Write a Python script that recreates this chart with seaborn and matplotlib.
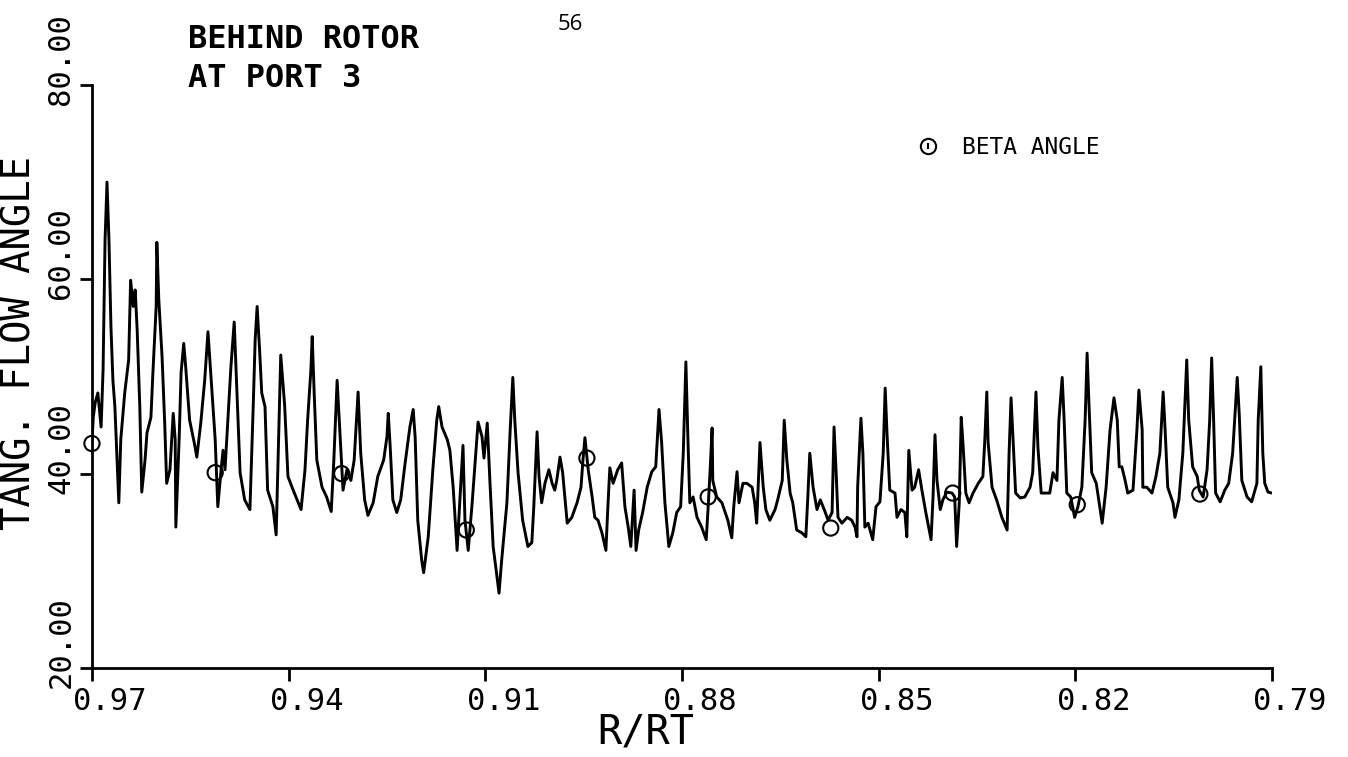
#!/usr/bin/env python3
"""
Tangential flow angle survey behind the rotor at port 3.
Redraws the plotter trace with seaborn.
"""

import numpy as np
import matplotlib
matplotlib.use("Agg")
import matplotlib.pyplot as plt
import matplotlib.transforms as mtransforms
from matplotlib.lines import Line2D
import seaborn as sns

# trace: radius ratio R/RT and tangential flow angle (deg)
r_rt = [
    0.9700, 0.9698, 0.9695, 0.9691, 0.9686, 0.9683, 0.9680, 0.9677, 0.9674, 0.9671,
    0.9668, 0.9665, 0.9659, 0.9656, 0.9650, 0.9644, 0.9641, 0.9637, 0.9634, 0.9631,
    0.9627, 0.9624, 0.9619, 0.9616, 0.9610, 0.9607, 0.9602, 0.9601, 0.9598, 0.9593,
    0.9589, 0.9586, 0.9581, 0.9576, 0.9573, 0.9572, 0.9567, 0.9564, 0.9560, 0.9557,
    0.9551, 0.9544, 0.9540, 0.9534, 0.9528, 0.9523, 0.9518, 0.9512, 0.9508, 0.9503,
    0.9500, 0.9497, 0.9493, 0.9488, 0.9483, 0.9480, 0.9474, 0.9467, 0.9459, 0.9454,
    0.9451, 0.9448, 0.9444, 0.9441, 0.9436, 0.9432, 0.9424, 0.9419, 0.9415, 0.9412,
    0.9406, 0.9401, 0.9393, 0.9381, 0.9375, 0.9371, 0.9366, 0.9364, 0.9361, 0.9357,
    0.9349, 0.9342, 0.9335, 0.9331, 0.9326, 0.9322, 0.9317, 0.9311, 0.9305, 0.9300,
    0.9294, 0.9290, 0.9284, 0.9279, 0.9271, 0.9264, 0.9255, 0.9250, 0.9248, 0.9245,
    0.9241, 0.9235, 0.9229, 0.9223, 0.9215, 0.9210, 0.9207, 0.9203, 0.9197, 0.9194,
    0.9187, 0.9180, 0.9174, 0.9171, 0.9166, 0.9158, 0.9154, 0.9149, 0.9143, 0.9139,
    0.9134, 0.9131, 0.9126, 0.9120, 0.9111, 0.9105, 0.9102, 0.9097, 0.9093, 0.9088,
    0.9084, 0.9079, 0.9075, 0.9067, 0.9062, 0.9058, 0.9055, 0.9050, 0.9043, 0.9035,
    0.9029, 0.9026, 0.9021, 0.9018, 0.9014, 0.9009, 0.9003, 0.8998, 0.8994, 0.8991,
    0.8986, 0.8982, 0.8975, 0.8968, 0.8960, 0.8954, 0.8951, 0.8948, 0.8943, 0.8937,
    0.8933, 0.8928, 0.8922, 0.8916, 0.8913, 0.8910, 0.8905, 0.8898, 0.8892, 0.8887,
    0.8882, 0.8878, 0.8873, 0.8870, 0.8866, 0.8860, 0.8853, 0.8846, 0.8840, 0.8835,
    0.8831, 0.8826, 0.8820, 0.8814, 0.8808, 0.8802, 0.8798, 0.8794, 0.8791, 0.8788,
    0.8783, 0.8777, 0.8770, 0.8763, 0.8760, 0.8757, 0.8754, 0.8753, 0.8747, 0.8739,
    0.8734, 0.8730, 0.8724, 0.8721, 0.8716, 0.8713, 0.8707, 0.8701, 0.8693, 0.8689,
    0.8686, 0.8681, 0.8676, 0.8672, 0.8666, 0.8658, 0.8654, 0.8647, 0.8644, 0.8640,
    0.8635, 0.8631, 0.8625, 0.8617, 0.8611, 0.8608, 0.8605, 0.8600, 0.8594, 0.8589,
    0.8583, 0.8577, 0.8571, 0.8568, 0.8565, 0.8562, 0.8556, 0.8548, 0.8541, 0.8536,
    0.8533, 0.8532, 0.8527, 0.8524, 0.8521, 0.8516, 0.8509, 0.8504, 0.8498, 0.8493,
    0.8490, 0.8487, 0.8483, 0.8475, 0.8472, 0.8466, 0.8460, 0.8457, 0.8454, 0.8449,
    0.8445, 0.8439, 0.8434, 0.8428, 0.8420, 0.8417, 0.8414, 0.8411, 0.8406, 0.8402,
    0.8396, 0.8388, 0.8384, 0.8381, 0.8377, 0.8374, 0.8371, 0.8367, 0.8362, 0.8356,
    0.8348, 0.8341, 0.8338, 0.8335, 0.8333, 0.8327, 0.8320, 0.8312, 0.8304, 0.8301,
    0.8298, 0.8295, 0.8291, 0.8284, 0.8277, 0.8269, 0.8265, 0.8260, 0.8257, 0.8252,
    0.8246, 0.8239, 0.8234, 0.8228, 0.8225, 0.8220, 0.8217, 0.8213, 0.8207, 0.8201,
    0.8196, 0.8190, 0.8185, 0.8182, 0.8179, 0.8175, 0.8168, 0.8162, 0.8159, 0.8153,
    0.8147, 0.8141, 0.8136, 0.8133, 0.8129, 0.8124, 0.8120, 0.8112, 0.8106, 0.8103,
    0.8098, 0.8097, 0.8091, 0.8083, 0.8077, 0.8071, 0.8066, 0.8063, 0.8059, 0.8051,
    0.8048, 0.8042, 0.8036, 0.8030, 0.8027, 0.8021, 0.8014, 0.8011, 0.8005, 0.7999,
    0.7995, 0.7992, 0.7989, 0.7986, 0.7979, 0.7972, 0.7966, 0.7960, 0.7953, 0.7950,
    0.7946, 0.7938, 0.7931, 0.7923, 0.7921, 0.7917, 0.7914, 0.7911, 0.7906, 0.7900,
]
flow_angle = [
    43.1, 45.8, 47.3, 48.3, 44.8, 50.7, 64.0, 70.0, 64.0, 55.1,
    49.6, 46.9, 37.0, 43.5, 48.3, 51.7, 59.9, 57.2, 58.9, 54.8,
    46.9, 38.1, 41.4, 44.2, 45.8, 50.4, 57.2, 63.8, 57.9, 52.0,
    45.2, 39.0, 40.4, 46.2, 43.5, 34.5, 43.5, 50.4, 53.4, 51.0,
    45.5, 43.2, 41.7, 45.2, 49.6, 54.6, 49.6, 43.5, 36.6, 40.4,
    42.4, 40.4, 45.2, 51.0, 55.6, 50.4, 40.1, 37.3, 36.3, 46.9,
    53.8, 57.2, 52.4, 48.3, 46.9, 38.3, 36.6, 33.7, 44.5, 52.2,
    47.0, 39.7, 38.3, 36.3, 40.4, 45.5, 50.7, 54.1, 48.3, 41.4,
    38.6, 37.6, 36.1, 41.4, 49.6, 44.5, 38.3, 40.4, 39.3, 41.4,
    48.4, 42.1, 37.3, 35.7, 37.0, 39.7, 41.4, 43.8, 46.2, 42.7,
    37.3, 36.0, 37.3, 40.7, 44.8, 46.6, 43.8, 35.2, 31.1, 29.8,
    33.5, 40.4, 45.5, 46.9, 44.8, 43.5, 42.4, 38.6, 32.1, 37.0,
    42.9, 35.2, 32.1, 37.0, 45.3, 43.8, 41.6, 45.2, 39.3, 32.5,
    30.4, 27.7, 31.1, 37.0, 44.5, 49.9, 45.5, 40.1, 35.2, 32.5,
    32.9, 36.6, 44.3, 39.7, 37.0, 39.0, 40.4, 39.0, 38.3, 39.3,
    41.7, 40.1, 34.9, 35.5, 37.0, 38.6, 41.4, 43.7, 40.4, 37.6,
    35.5, 35.2, 33.9, 32.1, 36.6, 40.6, 39.0, 40.4, 41.1, 36.6,
    34.5, 32.5, 38.3, 32.1, 34.2, 36.0, 38.6, 40.2, 40.7, 46.6,
    43.2, 37.0, 32.5, 33.9, 36.0, 36.6, 42.1, 51.5, 43.8, 37.0,
    37.6, 35.5, 34.5, 33.2, 36.6, 40.4, 44.7, 39.3, 37.6, 37.0,
    36.0, 35.2, 33.4, 36.6, 40.2, 37.0, 39.0, 39.0, 38.6, 37.0,
    34.9, 43.2, 38.6, 36.3, 35.2, 36.3, 37.3, 39.3, 45.5, 41.4,
    38.0, 37.0, 34.2, 33.9, 33.5, 37.6, 42.1, 38.6, 36.3, 37.3,
    36.3, 35.2, 36.0, 44.8, 40.4, 35.5, 34.9, 35.5, 35.2, 34.5,
    33.5, 38.6, 45.7, 42.1, 34.5, 34.9, 33.2, 36.6, 37.1, 42.1,
    48.8, 43.8, 38.3, 38.0, 35.5, 36.3, 36.0, 33.5, 42.4, 38.3,
    38.6, 40.4, 38.3, 36.0, 33.2, 37.6, 44.0, 39.3, 36.3, 37.3,
    38.1, 38.0, 37.6, 32.5, 37.0, 45.8, 42.7, 38.0, 37.0, 38.0,
    39.0, 39.7, 43.5, 48.4, 43.2, 38.6, 37.3, 35.5, 34.2, 42.1,
    47.8, 43.5, 38.0, 37.5, 37.6, 38.6, 40.1, 48.4, 42.7, 38.0,
    38.0, 38.0, 40.1, 39.3, 45.5, 49.9, 45.5, 38.0, 37.6, 35.5,
    36.6, 38.6, 45.5, 52.4, 46.9, 40.1, 39.0, 36.3, 34.9, 38.6,
    44.5, 47.8, 45.5, 40.7, 40.7, 39.3, 38.0, 38.3, 44.5, 48.6,
    44.5, 38.6, 38.6, 38.0, 39.7, 42.1, 48.4, 44.5, 38.6, 37.0,
    35.5, 37.3, 42.1, 51.7, 45.5, 40.7, 39.7, 38.3, 37.6, 40.4,
    45.5, 51.9, 45.5, 38.0, 37.1, 38.3, 39.0, 42.1, 49.9, 46.2,
    39.3, 37.6, 37.1, 39.0, 45.5, 51.0, 42.1, 39.0, 38.1, 38.0,
]

# circled beta-angle points
beta_r = [0.9700, 0.9512, 0.9319, 0.9129, 0.8945, 0.8760, 0.8573, 0.8387, 0.8197, 0.8010]
beta_angle = [43.1, 40.1, 40.0, 34.2, 41.6, 37.6, 34.4, 38.0, 36.8, 37.9]

x_ticks = [0.97, 0.94, 0.91, 0.88, 0.85, 0.82, 0.79]
y_ticks = [20, 40, 60, 80]

sns.set_theme(style="ticks")
plt.rcParams["font.family"] = ["DejaVu Sans Mono", "DejaVu Sans"]
plt.rcParams["text.color"] = "black"
plt.rcParams["axes.labelcolor"] = "black"

fig = plt.figure(figsize=(13.48, 7.57), dpi=100)
ax = fig.add_axes([0.0682, 0.1176, 0.8754, 0.7702])

sns.lineplot(x=r_rt, y=flow_angle, sort=False, estimator=None,
             color="black", linewidth=2.1, ax=ax)
sns.scatterplot(x=beta_r, y=beta_angle, marker="o", s=120,
                facecolor="none", edgecolor="black", linewidth=1.5,
                clip_on=False, zorder=5, ax=ax)

ax.set_xlim(0.97, 0.79)
ax.set_ylim(20, 80)
ax.set_xticks(x_ticks)
ax.set_xticklabels([f"{v:.2f}" for v in x_ticks], fontsize=22)
ax.set_yticks(y_ticks)
ax.set_yticklabels([f"{v:.2f}" for v in y_ticks], fontsize=22,
                   rotation=90, va="center")
ax.tick_params(axis="both", direction="out", length=9, width=2,
               color="black", labelcolor="black")
ax.tick_params(axis="x", pad=5)
ax.tick_params(axis="y", pad=3)

# plotter labels sit a little off their ticks
shift_x = mtransforms.ScaledTranslation(0.18, 0, fig.dpi_scale_trans)
for lab in ax.get_xticklabels():
    lab.set_transform(lab.get_transform() + shift_x)
shift_y = mtransforms.ScaledTranslation(0, 0.26, fig.dpi_scale_trans)
for lab in ax.get_yticklabels():
    lab.set_transform(lab.get_transform() + shift_y)

sns.despine(ax=ax)
for side in ["left", "bottom"]:
    ax.spines[side].set_linewidth(2)
    ax.spines[side].set_color("black")

ax.set_xlabel("R/RT", fontsize=29)
ax.xaxis.set_label_coords(0.469, -0.077)
ax.set_ylabel("TANG. FLOW ANGLE", fontsize=28)
ax.yaxis.set_label_coords(-0.045, 0.557)

fig.text(0.1395, 0.9366, "BEHIND ROTOR", fontsize=23, va="baseline",
         fontweight="bold")
fig.text(0.1395, 0.885, "AT PORT 3", fontsize=23, va="baseline",
         fontweight="bold")
fig.text(0.423, 0.967, "56", fontsize=16, ha="center", va="center",
         family=["Open Sans", "DejaVu Sans"])

circle = Line2D([], [], marker="o", markersize=11, markerfacecolor="none",
                markeredgecolor="black", markeredgewidth=1.5, linestyle="none")
stick = Line2D([], [], marker="|", markersize=5, markeredgecolor="black",
               markeredgewidth=1.5, linestyle="none")
ax.legend([(circle, stick)], ["BETA ANGLE"], loc="center left",
          bbox_to_anchor=(0.680, 0.8045), bbox_transform=fig.transFigure,
          frameon=False, fontsize=16.5, handlelength=1.0, handletextpad=1.0,
          borderpad=0, borderaxespad=0)

fig.savefig("out.png", dpi=100)
print("saved out.png")
